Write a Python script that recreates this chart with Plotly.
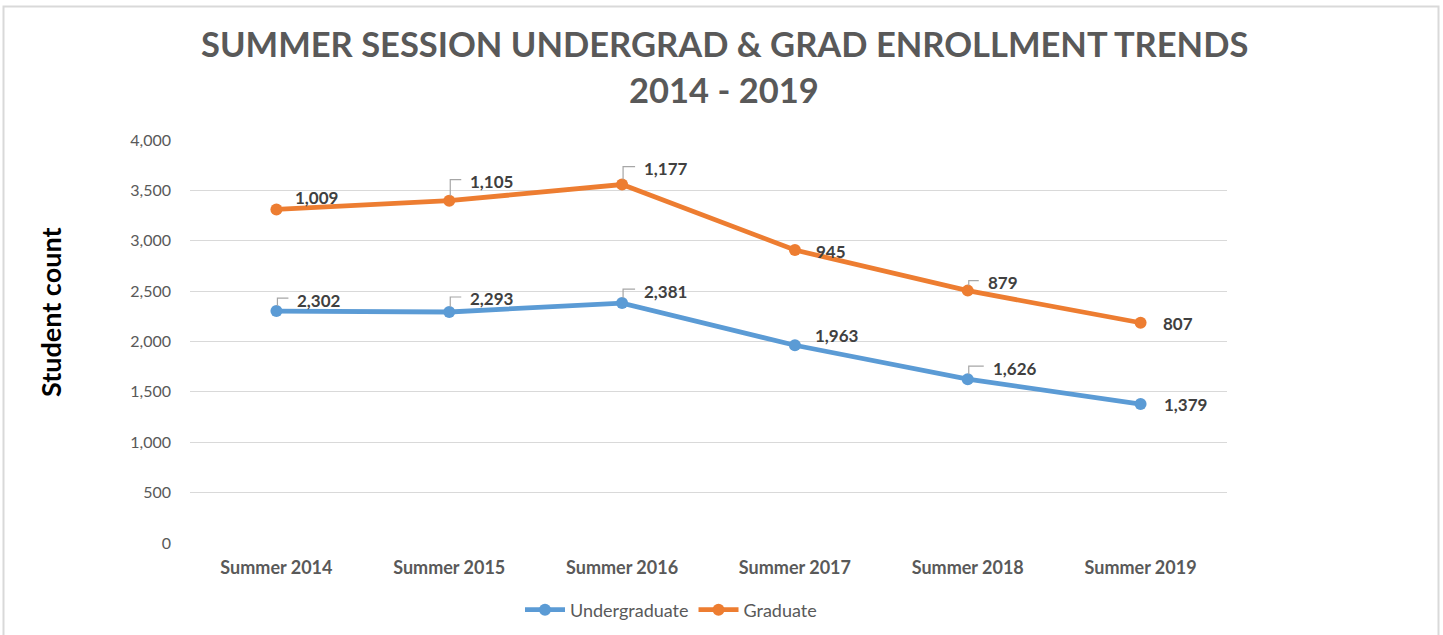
import plotly.graph_objects as go

categories = ["Summer 2014", "Summer 2015", "Summer 2016", "Summer 2017", "Summer 2018", "Summer 2019"]
undergrad = [2302, 2293, 2381, 1963, 1626, 1379]
graduate = [1009, 1105, 1177, 945, 879, 807]
y_ticks = [0, 500, 1000, 1500, 2000, 2500, 3000, 3500, 4000]

# label offsets in pixels (dx to text left, dy to text centre, upward) and leader flags
u_off = [(19, 11, True), (19, 13, True), (20, 12, True), (18, 10, False), (23, 11, True), (21, 0, False)]
g_off = [(17, 12, False), (19, 19, True), (20, 16, True), (19, -1, False), (18, 8, True), (20, -1, False)]

BLUE = "#5B9BD5"
ORANGE = "#ED7D31"
FONT = "Lato"

W, H = 1443, 635
# plot area in page pixels
PL, PR, PT, PB = 190, 1227, 140, 543
PW, PH = PR - PL, PB - PT


def px(xp):
    return (xp - PL) / PW


def py(yp):
    return (PB - yp) / PH


fig = go.Figure()
fig.add_trace(go.Scatter(x=categories, y=undergrad, name="Undergraduate", mode="lines+markers",
                         stackgroup="one", fill="none",
                         line=dict(color=BLUE, width=4.8), marker=dict(size=12, color=BLUE)))
fig.add_trace(go.Scatter(x=categories, y=graduate, name="Graduate", mode="lines+markers",
                         stackgroup="one", fill="none",
                         line=dict(color=ORANGE, width=4.8), marker=dict(size=12, color=ORANGE)))

grad_total = [u + g for u, g in zip(undergrad, graduate)]

annotations = []
shapes = []
for series, yvals, offs in ((undergrad, undergrad, u_off), (graduate, grad_total, g_off)):
    for cat, val, yv, (dx, dy, lead) in zip(categories, series, yvals, offs):
        annotations.append(dict(x=cat, y=yv, xref="x", yref="y", text=f"{val:,}", showarrow=False,
                                xanchor="left", yanchor="middle", xshift=dx, yshift=dy,
                                font=dict(family=FONT, size=17, color="#404040", weight="bold")))
        if lead:
            shapes.append(dict(type="path", xref="x", yref="y", xsizemode="pixel", ysizemode="pixel",
                               xanchor=cat, yanchor=yv,
                               path=f"M 1,5 L 1,{dy + 2} L {dx - 7},{dy + 2}",
                               line=dict(color="#A6A6A6", width=1.2)))

# title lines
annotations.append(dict(x=px(724), y=py(43), xref="paper", yref="paper",
                        text="SUMMER SESSION UNDERGRAD &amp; GRAD ENROLLMENT TRENDS", showarrow=False,
                        xanchor="center", yanchor="middle",
                        font=dict(family=FONT, size=34.5, color="#595959", weight="bold")))
annotations.append(dict(x=px(724), y=py(90), xref="paper", yref="paper",
                        text="2014 - 2019", showarrow=False,
                        xanchor="center", yanchor="middle",
                        font=dict(family=FONT, size=34.5, color="#595959", weight="bold")))
# y axis title
annotations.append(dict(x=px(50), y=py(313), xref="paper", yref="paper",
                        text="Student count", showarrow=False, textangle=-90,
                        xanchor="center", yanchor="middle",
                        font=dict(family=FONT, size=27, color="#000000", weight="bold")))

# outer chart border
shapes.append(dict(type="rect", xref="paper", yref="paper",
                   x0=px(3.5), x1=px(1438.5), y0=py(660), y1=py(6.5),
                   line=dict(color="#D9D9D9", width=2), layer="below"))

fig.update_layout(
    width=W, height=H,
    margin=dict(l=PL, r=W - PR, t=PT, b=H - PB),
    paper_bgcolor="white", plot_bgcolor="white",
    showlegend=True,
    legend=dict(orientation="h", xref="container", x=671 / W, xanchor="center",
                yref="container", y=1 - 610 / H, yanchor="middle",
                font=dict(family=FONT, size=18, color="#595959"),
                itemwidth=40, traceorder="normal"),
    annotations=annotations, shapes=shapes,
    hovermode=False,
)
fig.update_xaxes(type="category", range=[-0.5, len(categories) - 0.5],
                 showgrid=False, showline=False, zeroline=False, ticks="",
                 tickfont=dict(family=FONT, size=18, color="#595959", weight="bold"),
                 ticklabelstandoff=12, automargin=False)
fig.update_yaxes(range=[0, 4000], tickvals=y_ticks, tickformat=",", showgrid=True,
                 gridcolor="#D9D9D9", gridwidth=1, zeroline=False, showline=False, ticks="",
                 tickfont=dict(family=FONT, size=16, color="#595959"), ticklabelstandoff=18,
                 automargin=False)

fig.write_html("out.html", config={"displayModeBar": False},
               post_script="document.body.style.margin='0';document.body.style.overflow='hidden';")
